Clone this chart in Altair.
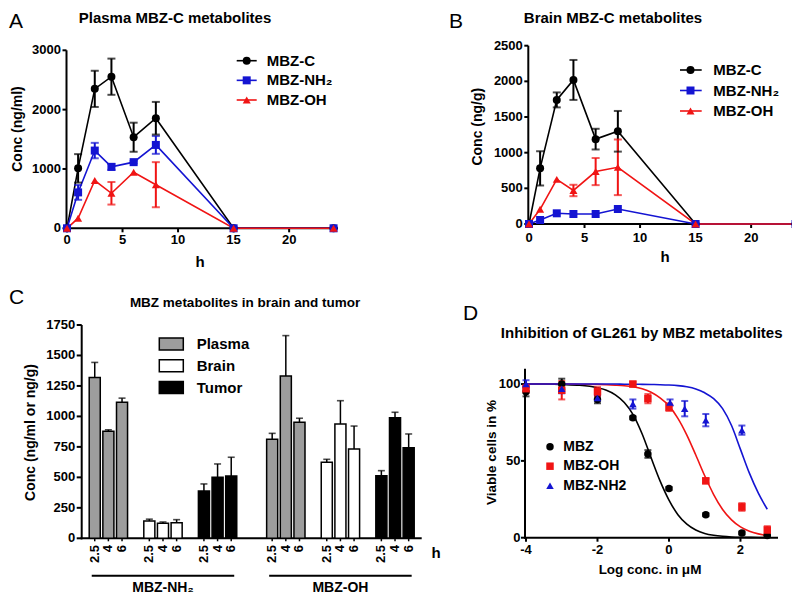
import altair as alt
import pandas as pd

# ---------------- data ----------------
hours = [0, 1, 2.5, 4, 6, 8, 15, 24]
pk_series = ["MBZ-C", "MBZ-NH\u2082", "MBZ-OH"]

plasma_mbzc = [0, 1010, 2350, 2555, 1535, 1855, 0, 0]
plasma_mbzc_err = [0, 240, 305, 305, 245, 275, 0, 0]
plasma_nh2 = [0, 605, 1310, 1035, 1115, 1405, 0, 0]
plasma_nh2_err = [0, 125, 130, 50, 20, 150, 0, 0]
plasma_oh = [0, 170, 805, 590, 945, 735, 0, 0]
plasma_oh_err = [0, 0, 0, 190, 0, 380, 0, 0]

brain_mbzc = [0, 780, 1740, 2020, 1190, 1300, 0, 0]
brain_mbzc_err = [0, 240, 105, 280, 145, 285, 0, 0]
brain_nh2 = [0, 56, 150, 140, 140, 210, 0, 0]
brain_nh2_err = [0, 0, 0, 0, 0, 0, 0, 0]
brain_oh = [0, 206, 626, 470, 735, 795, 0, 0]
brain_oh_err = [0, 0, 0, 80, 190, 390, 0, 0]

pk_x_ticks = [0, 5, 10, 15, 20]
plasma_y_ticks = [0, 1000, 2000, 3000]
brain_y_ticks = [0, 500, 1000, 1500, 2000, 2500]

c_metabolites = ["MBZ-NH\u2082", "MBZ-OH"]
c_tissues = ["Plasma", "Brain", "Tumor"]
c_times = ["2.5", "4", "6"]
nh2_plasma = [1320, 878, 1117]
nh2_plasma_err = [123, 12, 33]
nh2_brain = [141, 123, 128]
nh2_brain_err = [16, 11, 25]
nh2_tumor = [388, 500, 511]
nh2_tumor_err = [58, 110, 154]
oh_plasma = [812, 1332, 952]
oh_plasma_err = [49, 331, 33]
oh_brain = [623, 938, 733]
oh_brain_err = [25, 191, 188]
oh_tumor = [514, 990, 743]
oh_tumor_err = [41, 44, 113]
c_y_ticks = [0, 250, 500, 750, 1000, 1250, 1500, 1750]

d_series = ["MBZ", "MBZ-OH", "MBZ-NH2"]
d_logx_mbz = [-4, -3, -2, -1.01, -0.59, 0, 1.03, 2.04, 2.75]
d_mbz = [95, 100, 90, 78, 54.5, 32, 15, 3, 1.5]
d_mbz_err = [3, 3.5, 2.5, 1, 2.5, 1, 1, 1, 0.5]
d_logx_oh = [-4, -3, -2, -1.01, -0.59, 0, 1.03, 2.04, 2.75]
d_oh = [97, 96, 95, 100, 90.5, 85, 37, 20, 5]
d_oh_err = [2.5, 6, 3, 1.5, 3, 2.5, 1.5, 2.5, 2.5]
d_logx_nh2 = [-4, -3, -2, -1.01, 0.03, 0.44, 1.03, 2.04]
d_nh2 = [100, 97, 91, 87, 88, 84, 76.5, 70]
d_nh2_err = [2.5, 3, 1.5, 3, 2, 5, 4, 3]

fit_logx = [-4, -3.5, -3, -2.5, -2, -1.75, -1.5, -1.25, -1, -0.75, -0.5, -0.25,
            0, 0.25, 0.5, 0.75, 1, 1.25, 1.5, 1.75, 2, 2.25, 2.5, 2.75]
fit_mbz = [100, 100, 99.7, 99.2, 97.6, 96, 93, 88, 80, 67.5, 52, 37,
           24.5, 15, 8.8, 5, 2.8, 1.6, 0.9, 0.5, 0.3, 0.2, 0.1, 0.05]
fit_oh = [100, 100, 100, 99.9, 99.8, 99.6, 99.3, 98.9, 98.2, 96.9, 94.7, 91,
          85.8, 77.7, 66.8, 53.8, 40.3, 28.1, 18.4, 11.6, 7.0, 4.2, 2.5, 1.4]
fit_nh2 = [100, 100, 100, 100, 100, 100, 100, 99.9, 99.9, 99.8, 99.7, 99.6,
           99.4, 99.0, 98.2, 96.8, 94.3, 90.5, 84, 73, 57.5, 42, 29, 18.5]
d_x_ticks = [-4, -2, 0, 2]
d_y_ticks = [0, 50, 100]

# ---------------- styling ----------------
FONT = "Liberation Sans"
BLACK, BLUE, RED = "#000000", "#1414d2", "#f01414"
pk_colors = [BLACK, BLUE, RED]
pk_shapes = ["circle", "square", "triangle-up"]
d_colors = [BLACK, RED, BLUE]
d_shapes = ["circle", "square", "triangle-up"]
BAR_FILLS = ["#9d9d9d", "#ffffff", "#000000"]
W, H, M = 784, 590, 8  # drawing size and page margin
one = pd.DataFrame({"k": [0]})


def p(v):
    return v - M


def fmt(v):
    return str(int(v)) if float(v).is_integer() else str(v)


def label(text, x, y, size, weight="bold", align="center", angle=0):
    return alt.Chart(one).mark_text(text=text, font=FONT, fontSize=size, fontWeight=weight, align=align,
                                    baseline="middle", color="black", angle=angle).encode(
        x=alt.value(p(x)), y=alt.value(p(y)))


def hline(x0, x1, y, w=2):
    return alt.Chart(one).mark_rule(strokeWidth=w, color="black").encode(
        x=alt.value(p(x0)), x2=alt.value(p(x1)), y=alt.value(p(y)))


def vline(x, y0, y1, w=2):
    return alt.Chart(one).mark_rule(strokeWidth=w, color="black").encode(
        x=alt.value(p(x)), y=alt.value(p(y0)), y2=alt.value(p(y1)))


def cont_axes(xs, ys, x_ticks, y_ticks, x_axis_y, y_axis_x, x_end, y_top,
              x_lab_y, y_lab_gap, tick_len=4, size=13):
    xt = pd.DataFrame({"t": x_ticks, "lab": [fmt(v) for v in x_ticks]})
    yt = pd.DataFrame({"t": y_ticks, "lab": [fmt(v) for v in y_ticks]})
    return [
        hline(y_axis_x - 1, x_end, x_axis_y),
        vline(y_axis_x, x_axis_y + 1, y_top),
        alt.Chart(xt).mark_rule(strokeWidth=2, color="black").encode(
            x=alt.X("t:Q", scale=xs, axis=None), y=alt.value(p(x_axis_y)),
            y2=alt.value(p(x_axis_y) + tick_len)),
        alt.Chart(xt).mark_text(font=FONT, fontWeight="bold", fontSize=size, color="black",
                                baseline="middle").encode(
            x=alt.X("t:Q", scale=xs, axis=None), y=alt.value(p(x_lab_y)), text="lab:N"),
        alt.Chart(yt).mark_rule(strokeWidth=2, color="black").encode(
            y=alt.Y("t:Q", scale=ys, axis=None), x=alt.value(p(y_axis_x) - tick_len),
            x2=alt.value(p(y_axis_x))),
        alt.Chart(yt).mark_text(font=FONT, fontWeight="bold", fontSize=size, color="black",
                                align="right", baseline="middle").encode(
            y=alt.Y("t:Q", scale=ys, axis=None), x=alt.value(p(y_axis_x) - y_lab_gap), text="lab:N"),
    ]


def pk_panel(values, errs, x_range, y_range, y_max, y_ticks, y_axis_x, x_lab_y):
    rows = []
    for s, vals, es in zip(pk_series, values, errs):
        for h, v, e in zip(hours, vals, es):
            rows.append({"series": s, "h": h, "v": v, "lo": v - e, "hi": v + e, "err": e})
    df = pd.DataFrame(rows)
    xs = alt.Scale(domain=[0, 24.4], range=[p(x_range[0]), p(x_range[1])], nice=False, zero=False)
    ys = alt.Scale(domain=[0, y_max], range=[p(y_range[0]), p(y_range[1])], nice=False)
    color = alt.Color("series:N", scale=alt.Scale(domain=pk_series, range=pk_colors), legend=None)
    shape = alt.Shape("series:N", scale=alt.Scale(domain=pk_series, range=pk_shapes), legend=None)
    X = alt.X("h:Q", scale=xs, axis=None)
    base = alt.Chart(df)
    lines = base.mark_line(strokeWidth=1.6).encode(x=X, y=alt.Y("v:Q", scale=ys, axis=None), color=color)
    errd = base.transform_filter("datum.err > 0")
    stems = errd.mark_rule(strokeWidth=2).encode(
        x=X, y=alt.Y("lo:Q", scale=ys, axis=None), y2="hi:Q", color=color)
    cap_hi = errd.mark_tick(orient="horizontal", size=8, thickness=2).encode(
        x=X, y=alt.Y("hi:Q", scale=ys, axis=None), color=color)
    cap_lo = errd.mark_tick(orient="horizontal", size=8, thickness=2).encode(
        x=X, y=alt.Y("lo:Q", scale=ys, axis=None), color=color)
    pts = base.mark_point(filled=True, opacity=1, size=64).encode(
        x=X, y=alt.Y("v:Q", scale=ys, axis=None), color=color, shape=shape)
    axes = cont_axes(xs, ys, pk_x_ticks, y_ticks, y_range[0], y_axis_x, x_range[1], y_range[1],
                     x_lab_y, 5.5)
    return alt.layer(*axes, lines, stems, cap_hi, cap_lo, pts)


panel_a = pk_panel([plasma_mbzc, plasma_nh2, plasma_oh], [plasma_mbzc_err, plasma_nh2_err, plasma_oh_err],
                   (67, 338), (228.3, 50.3), 3000, plasma_y_ticks, 66.5, 240)
panel_b = pk_panel([brain_mbzc, brain_nh2, brain_oh], [brain_mbzc_err, brain_nh2_err, brain_oh_err],
                   (529, 800), (224, 45.7), 2500, brain_y_ticks, 528.3, 238.3)


# ---------------- panel C ----------------
def c_panel():
    data_map = {
        (c_metabolites[0], "Plasma"): (nh2_plasma, nh2_plasma_err),
        (c_metabolites[0], "Brain"): (nh2_brain, nh2_brain_err),
        (c_metabolites[0], "Tumor"): (nh2_tumor, nh2_tumor_err),
        (c_metabolites[1], "Plasma"): (oh_plasma, oh_plasma_err),
        (c_metabolites[1], "Brain"): (oh_brain, oh_brain_err),
        (c_metabolites[1], "Tumor"): (oh_tumor, oh_tumor_err),
    }
    slots, rows, groups = [], [], []
    for mi, met in enumerate(c_metabolites):
        for ti, tis in enumerate(c_tissues):
            vals, errs = data_map[(met, tis)]
            for t, v, e in zip(c_times, vals, errs):
                slot = f"{met}|{tis}|{t}"
                slots.append(slot)
                rows.append({"slot": slot, "tissue": tis, "time": t, "v": v, "hi": v + e})
            if ti < 2:
                slots.append(f"{met}|gap{ti}")
        if mi == 0:
            slots += ["between|a", "between|b"]
        groups.append({"start": f"{met}|Plasma|2.5", "end": f"{met}|Tumor|6",
                       "mid": f"{met}|Brain|4", "label": met})
    df = pd.DataFrame(rows)
    gdf = pd.DataFrame(groups)
    yt = pd.DataFrame({"t": c_y_ticks, "lab": [fmt(v) for v in c_y_ticks]})
    xs = alt.Scale(domain=slots, range=[p(81.7), p(421.7)], paddingInner=0.19, paddingOuter=0.55)
    ys = alt.Scale(domain=[0, 1750], range=[p(538.3), p(325)], nice=False)
    X = alt.X("slot:N", scale=xs, axis=None)
    fill = alt.Fill("tissue:N", scale=alt.Scale(domain=c_tissues, range=BAR_FILLS), legend=None)
    base = alt.Chart(df)
    stems = base.mark_rule(strokeWidth=1.5, color="black").encode(
        x=X, y=alt.Y("v:Q", scale=ys, axis=None), y2="hi:Q")
    caps = base.mark_tick(orient="horizontal", size=7, thickness=1.6, color="black").encode(
        x=X, y=alt.Y("hi:Q", scale=ys, axis=None))
    bars = base.mark_bar(stroke="black", strokeWidth=1.5).encode(
        x=X, y=alt.Y("v:Q", scale=ys, axis=None), fill=fill)
    xticks = base.mark_rule(strokeWidth=1.5, color="black").encode(
        x=X, y=alt.value(p(538.3)), y2=alt.value(p(538.3) + 3))
    xlabels = base.mark_text(font=FONT, fontWeight="bold", fontSize=13, color="black", angle=270,
                             align="right", baseline="middle").encode(
        x=X, y=alt.value(p(545)), text="time:N")
    yticks = alt.Chart(yt).mark_rule(strokeWidth=2, color="black").encode(
        y=alt.Y("t:Q", scale=ys, axis=None), x=alt.value(p(81.7) - 5), x2=alt.value(p(81.7)))
    ylabels = alt.Chart(yt).mark_text(font=FONT, fontWeight="bold", fontSize=13, color="black",
                                      align="right", baseline="middle").encode(
        y=alt.Y("t:Q", scale=ys, axis=None), x=alt.value(p(81.7) - 6.5), text="lab:N")
    gbase = alt.Chart(gdf)
    glines = gbase.mark_rule(strokeWidth=2, color="black", xOffset=-3, x2Offset=3).encode(
        x=alt.X("start:N", scale=xs, axis=None), x2="end:N", y=alt.value(p(575.7)))
    glabels = gbase.mark_text(font=FONT, fontWeight="bold", fontSize=14, color="black",
                              baseline="middle").encode(
        x=alt.X("mid:N", scale=xs, axis=None), y=alt.value(p(587.7)), text="label:N")
    return alt.layer(hline(80.7, 421.7, 538.3), vline(81.7, 539.3, 325),
                     stems, caps, bars, xticks, xlabels, yticks, ylabels, glines, glabels)


panel_c = c_panel()


# ---------------- panel D ----------------
def d_panel():
    rows = []
    for s, xs_, vs, es in zip(d_series, [d_logx_mbz, d_logx_oh, d_logx_nh2],
                              [d_mbz, d_oh, d_nh2], [d_mbz_err, d_oh_err, d_nh2_err]):
        for x, v, e in zip(xs_, vs, es):
            rows.append({"series": s, "x": x, "v": v, "lo": v - e, "hi": v + e})
    df = pd.DataFrame(rows)
    crow = []
    for s, fy in zip(d_series, [fit_mbz, fit_oh, fit_nh2]):
        for x, v in zip(fit_logx, fy):
            crow.append({"series": s, "x": x, "v": v})
    cdf = pd.DataFrame(crow)
    xs = alt.Scale(domain=[-4, 3.05], range=[p(526), p(778)], nice=False, zero=False)
    ys = alt.Scale(domain=[0, 110], range=[p(537.7), p(368.7)], nice=False)
    color = alt.Color("series:N", scale=alt.Scale(domain=d_series, range=d_colors), legend=None)
    shape = alt.Shape("series:N", scale=alt.Scale(domain=d_series, range=d_shapes), legend=None)
    X = alt.X("x:Q", scale=xs, axis=None)
    curves = alt.Chart(cdf).mark_line(strokeWidth=1.6, interpolate="monotone").encode(
        x=X, y=alt.Y("v:Q", scale=ys, axis=None), color=color)
    base = alt.Chart(df)
    stems = base.mark_rule(strokeWidth=2).encode(
        x=X, y=alt.Y("lo:Q", scale=ys, axis=None), y2="hi:Q", color=color)
    cap_hi = base.mark_tick(orient="horizontal", size=7, thickness=2).encode(
        x=X, y=alt.Y("hi:Q", scale=ys, axis=None), color=color)
    cap_lo = base.mark_tick(orient="horizontal", size=7, thickness=2).encode(
        x=X, y=alt.Y("lo:Q", scale=ys, axis=None), color=color)
    pts = base.mark_point(filled=True, opacity=1, size=56).encode(
        x=X, y=alt.Y("v:Q", scale=ys, axis=None), color=color, shape=shape)
    axes = cont_axes(xs, ys, d_x_ticks, d_y_ticks, 537.7, 525, 778, 368.7, 550, 4.5)
    return alt.layer(*axes, curves, stems, cap_hi, cap_lo, pts)


panel_d = d_panel()


# ---------------- legends ----------------
def line_legend(names, colors, shapes, y_range, x_line, x_pt, x_txt, font_size, with_line=True, size=64):
    df = pd.DataFrame({"name": names})
    y = alt.Y("name:N", scale=alt.Scale(type="point", domain=names, range=[p(y_range[0]), p(y_range[1])],
                                        padding=0), axis=None)
    col = alt.Color("name:N", scale=alt.Scale(domain=names, range=colors), legend=None)
    shp = alt.Shape("name:N", scale=alt.Scale(domain=names, range=shapes), legend=None)
    base = alt.Chart(df)
    layers = []
    if with_line:
        layers.append(base.mark_rule(strokeWidth=1.6).encode(
            x=alt.value(p(x_line[0])), x2=alt.value(p(x_line[1])), y=y, color=col))
    layers.append(base.mark_point(filled=True, opacity=1, size=size).encode(
        x=alt.value(p(x_pt)), y=y, color=col, shape=shp))
    layers.append(base.mark_text(align="left", baseline="middle", font=FONT, fontWeight="bold",
                                 fontSize=font_size, color="black").encode(
        x=alt.value(p(x_txt)), y=y, text="name:N"))
    return alt.layer(*layers)


leg_a = line_legend(pk_series, pk_colors, pk_shapes, (60.7, 100), (236.7, 256.7), 246.7, 266.7, 15)
leg_b = line_legend(pk_series, pk_colors, pk_shapes, (70, 111), (680, 701.7), 690.5, 713.3, 15)
leg_d = line_legend(d_series, d_colors, d_shapes, (446.7, 485.7), (0, 0), 550, 563.3, 14,
                    with_line=False, size=56)

leg_c_df = pd.DataFrame({"name": c_tissues})
leg_c_y = alt.Y("name:N", scale=alt.Scale(type="point", domain=c_tissues, range=[p(344), p(387.5)],
                                          padding=0), axis=None)
leg_c = alt.layer(
    alt.Chart(leg_c_df).mark_point(shape="M-1,-0.5H1V0.5H-1Z", size=576, filled=True, opacity=1,
                                   stroke="black", strokeWidth=1.5).encode(
        x=alt.value(p(171.3)), y=leg_c_y,
        fill=alt.Fill("name:N", scale=alt.Scale(domain=c_tissues, range=BAR_FILLS), legend=None)),
    alt.Chart(leg_c_df).mark_text(align="left", baseline="middle", font=FONT, fontWeight="bold",
                                  fontSize=15, color="black").encode(
        x=alt.value(p(196.7)), y=leg_c_y, text="name:N"),
)

# ---------------- free text ----------------
texts = [
    label("A", 9, 21.5, 21, "normal", "left"),
    label("B", 449, 21.5, 21, "normal", "left"),
    label("C", 9, 298, 21, "normal", "left"),
    label("D", 463, 314, 21, "normal", "left"),
    label("Plasma MBZ-C metabolites", 175, 18, 15),
    label("Brain MBZ-C metabolites", 613, 18, 15),
    label("MBZ metabolites in brain and tumor", 245, 303, 13.5),
    label("Inhibition of GL261 by MBZ metabolites", 641.7, 332.5, 15),
    label("Conc (ng/ml)", 18.3, 129, 14, angle=270),
    label("h", 200, 261.7, 15),
    label("Conc (ng/g)", 478.3, 126.7, 14, angle=270),
    label("h", 665, 257, 15),
    label("Conc (ng/ml or ng/g)", 31, 432.5, 14, angle=270),
    label("h", 436, 553, 15),
    label("Viable cells in %", 491.7, 452.5, 13.5, angle=270),
    label("Log conc. in \u03bcM", 650, 570, 13.5),
]

chart = alt.layer(panel_a, panel_b, panel_c, panel_d, leg_a, leg_b, leg_c, leg_d, *texts).resolve_scale(
    x="independent", y="independent", color="independent", shape="independent", fill="independent"
).properties(
    width=W, height=H, autosize=alt.AutoSizeParams(type="none"), padding=0
).configure_view(strokeWidth=0)

chart.save("out.html", embed_options={"renderer": "svg", "actions": False})
